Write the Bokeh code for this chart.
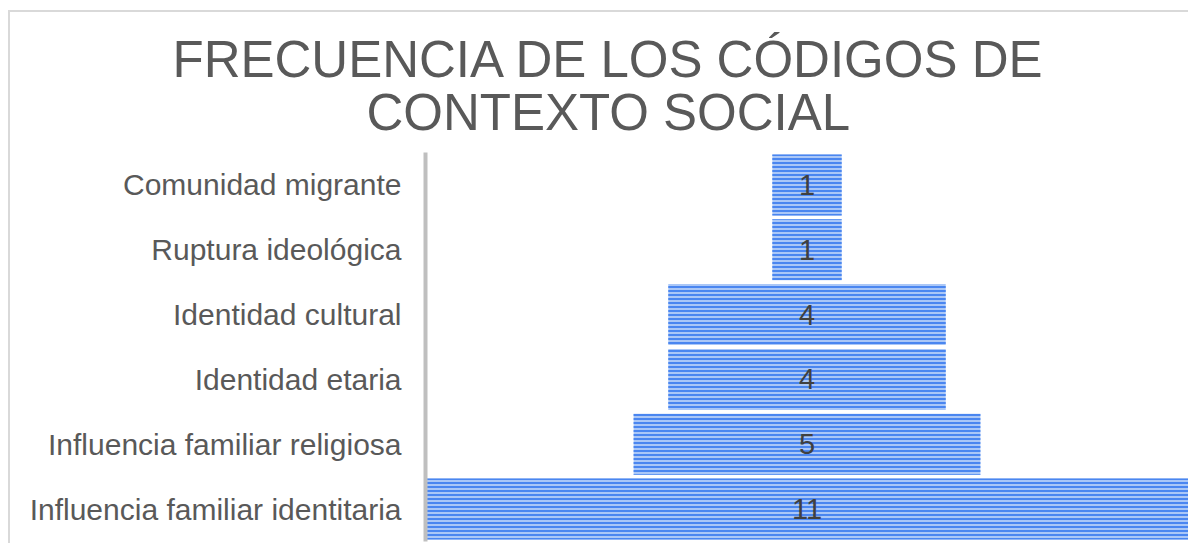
from bokeh.plotting import figure
from bokeh.models import FactorRange, Title, ColumnDataSource
from bokeh.core.properties import value
from bokeh.embed import file_html
from bokeh.resources import INLINE

categories = [
    "Comunidad migrante",
    "Ruptura ideológica",
    "Identidad cultural",
    "Identidad etaria",
    "Influencia familiar religiosa",
    "Influencia familiar identitaria",
]
counts = [1, 1, 4, 4, 5, 11]
title_line1 = "FRECUENCIA DE LOS CÓDIGOS DE"
title_line2 = "CONTEXTO SOCIAL"

src = ColumnDataSource(dict(
    cat=categories,
    val=counts,
    left=[-v / 2 for v in counts],
    right=[v / 2 for v in counts],
    lbl=[str(v) for v in counts],
))

W, H = 1180, 533
p = figure(
    width=W, height=H,
    y_range=FactorRange(factors=list(reversed(categories)), range_padding=0),
    x_range=(-5.5, 5.5),
    output_backend="svg", toolbar_location=None,
    min_border_left=415, min_border_right=2, min_border_top=140, min_border_bottom=4,
    styles={"margin-left": "8px", "margin-top": "10px",
            "border-top": "2px solid #d9d9d9", "border-left": "2px solid #d9d9d9"},
)
p.title = None
FONT = "Liberation Sans"

t2 = Title(text=title_line2, align="left", offset=-59, text_font=FONT,
           text_font_size="51px", text_font_style="normal", text_color="#595959",
           standoff=23)
t1 = Title(text=title_line1, align="left", offset=-253, text_font=FONT,
           text_font_size="51px", text_font_style="normal", text_color="#595959",
           standoff=-34)
p.add_layout(t2, "above")
p.add_layout(t1, "above")

p.hbar(y="cat", left="left", right="right", height=0.94, source=src,
       fill_color="#aac7f7", line_color=None,
       hatch_pattern="horizontal_line", hatch_color="#4a86f0",
       hatch_scale=4, hatch_weight=2)

p.text(x=0, y="cat", text="lbl", source=src, text_align="center",
       text_baseline="middle", text_font=value(FONT), text_font_size="29px",
       text_color="#404040")

p.xaxis.visible = False
p.xgrid.visible = False
p.ygrid.visible = False
p.outline_line_color = None
p.yaxis.axis_line_color = "#bfbfbf"
p.yaxis.axis_line_width = 4
p.yaxis.major_tick_line_color = None
p.yaxis.minor_tick_line_color = None
p.yaxis.major_tick_out = 0
p.yaxis.major_tick_in = 0
p.yaxis.major_label_standoff = 24
p.yaxis.major_label_text_font = FONT
p.yaxis.major_label_text_font_size = "30px"
p.yaxis.major_label_text_color = "#595959"

open("out.html", "w").write(file_html(p, INLINE))
